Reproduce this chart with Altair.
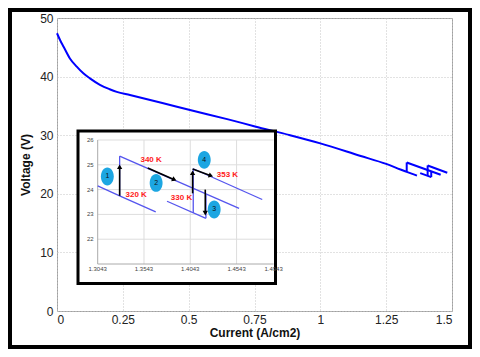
import altair as alt
import pandas as pd
import math

# ---- main polarization curve (Current A/cm2 -> Voltage V)
curve_x = [0, 0.012, 0.025, 0.049, 0.075, 0.1, 0.125, 0.163, 0.2, 0.227, 0.277, 0.4, 0.505,
           0.65, 0.752, 0.885, 1.0, 1.15, 1.25, 1.3043, 1.328, 1.367]
curve_y = [47.4, 46.2, 45.1, 43.1, 41.7, 40.56, 39.7, 38.6, 37.85, 37.4, 36.86, 35.5, 34.3,
           32.7, 31.5, 30.0, 28.6, 26.5, 25.1, 24.15, 23.75, 23.1]

# ---- temperature-step segments
v1_x = [1.328, 1.328];   v1_y = [23.75, 25.35]
b_x = [1.328, 1.457];    b_y = [25.35, 23.24]
c_x = [1.3792, 1.4212];  c_y = [23.53, 22.84]
v2_x = [1.4075, 1.4075]; v2_y = [23.06, 24.84]
d_x = [1.4075, 1.482];   d_y = [24.84, 23.6]
v3_x = [1.4212, 1.4212]; v3_y = [23.82, 22.84]

# ---- axes ticks
main_xticks = [0, 0.25, 0.5, 0.75, 1, 1.25, 1.5]
main_yticks = [0, 10, 20, 30, 40, 50]
inset_xticks = [1.3043, 1.3543, 1.4043, 1.4543, 1.4943]
inset_xlabels = ["1.3043", "1.3543", "1.4043", "1.4543", "1.4943"]
inset_yticks = [22, 23, 24, 25, 26]

# ---- inset annotations
arrow_x1 = [1.328, 1.3584, 1.4068, 1.4068, 1.4205]
arrow_y1 = [23.75, 24.87, 23.85, 24.83, 24.0]
arrow_x2 = [1.328, 1.3871, 1.4068, 1.4266, 1.4205]
arrow_y2 = [24.92, 24.40, 24.68, 24.56, 23.05]

badge_x = [1.3147, 1.3674, 1.4301, 1.4194]
badge_y = [24.53, 24.27, 23.2, 25.2]
badge_label = ["1", "2", "3", "4"]

temp_x = [1.3620, 1.3459, 1.3948, 1.4444]
temp_y = [25.2, 23.77, 23.66, 24.6]
temp_label = ["340 K", "320 K", "330 K", "353 K"]

# ---- build tables
rows = []
segs = [("main", curve_x, curve_y), ("v1", v1_x, v1_y), ("b", b_x, b_y), ("c", c_x, c_y),
        ("v2", v2_x, v2_y), ("d", d_x, d_y), ("v3", v3_x, v3_y)]
for name, xs, ys in segs:
    for i, (xx, yy) in enumerate(zip(xs, ys)):
        rows.append({"seg": name, "i": i, "x": xx, "y": yy})
df = pd.DataFrame(rows)

FONT = "Liberation Sans"
W, H = 395, 293

# inset pixel ratios (for arrow head rotation only)
PXX = (216.6 - 40.7) / (1.4943 - 1.3043)
PXY = (246 - 122) / (26 - 21)
arr = pd.DataFrame({"x1": arrow_x1, "y1": arrow_y1, "x2": arrow_x2, "y2": arrow_y2})
arr["ang"] = [math.degrees(math.atan2((a - b) * PXY, (d - c) * PXX)) + 90
              for a, b, c, d in zip(arr.y1, arr.y2, arr.x1, arr.x2)]

# ---------------- main chart
mx = alt.X("x:Q", scale=alt.Scale(domain=[0, 1.5], nice=False, zero=False),
           axis=alt.Axis(values=main_xticks, format=".2~f", title="Current (A/cm2)",
                         labelPadding=3, titlePadding=2))
my = alt.Y("y:Q", scale=alt.Scale(domain=[0, 50], nice=False, zero=False),
           axis=alt.Axis(values=main_yticks, format=".2~f", title="Voltage (V)",
                         labelPadding=4, titlePadding=7))

frame = alt.Chart(pd.DataFrame({"k": [0]})).mark_rect(
    fillOpacity=0, stroke="black", strokeWidth=4
).encode(x=alt.value(-47), x2=alt.value(W + 18), y=alt.value(-8), y2=alt.value(H + 36))

main_curve = alt.Chart(df).transform_filter(alt.datum.seg == "main").mark_line(
    color="#0000FF", strokeWidth=2, interpolate="monotone").encode(
    x=mx, y=my, order="i:Q")
main_steps = alt.Chart(df).transform_filter(alt.datum.seg != "main").mark_line(
    color="#0000FF", strokeWidth=2).encode(
    x=mx, y=my, detail="seg:N", order="i:Q")

main_layer = alt.layer(frame, main_curve, main_steps)

# ---------------- inset
sx = alt.Scale(domain=[1.3043, 1.4943], range=[40.7, 216.6], nice=False, zero=False)
sy = alt.Scale(domain=[21, 26], range=[246, 122], nice=False, zero=False)

box = alt.Chart(pd.DataFrame({"k": [0]})).mark_rect(
    fill="white", stroke="black", strokeWidth=3
).encode(x=alt.value(21), x2=alt.value(218.5), y=alt.value(113), y2=alt.value(265.5))

hgrid = alt.Chart(pd.DataFrame({"y": inset_yticks, "xa": [inset_xticks[0]] * 5, "xb": [inset_xticks[-1]] * 5})
                  ).mark_rule(color="#dddddd", strokeWidth=1).encode(
    x=alt.X("xa:Q", scale=sx, axis=None), x2="xb:Q", y=alt.Y("y:Q", scale=sy, axis=None))
vgrid = alt.Chart(pd.DataFrame({"x": inset_xticks[1:4], "ya": [21] * 3, "yb": [26] * 3})
                  ).mark_rule(color="#dddddd", strokeWidth=1).encode(
    x=alt.X("x:Q", scale=sx, axis=None), y=alt.Y("ya:Q", scale=sy, axis=None), y2="yb:Q")
iaxes = alt.Chart(pd.DataFrame({"xa": [1.3043, 1.3043], "xb": [1.3043, 1.4943],
                                "ya": [21, 21], "yb": [26, 21]})
                  ).mark_rule(color="#aaaaaa", strokeWidth=1).encode(
    x=alt.X("xa:Q", scale=sx, axis=None), x2="xb:Q",
    y=alt.Y("ya:Q", scale=sy, axis=None), y2="yb:Q")

xlab = alt.Chart(pd.DataFrame({"x": inset_xticks, "y": [21] * 5, "t": inset_xlabels})).mark_text(
    font=FONT, fontSize=6, color="#444", baseline="top", dy=2).encode(
    x=alt.X("x:Q", scale=sx, axis=None), y=alt.Y("y:Q", scale=sy, axis=None), text="t:N")
ylab = alt.Chart(pd.DataFrame({"x": [1.3043] * 5, "y": inset_yticks})).mark_text(
    font=FONT, fontSize=6, color="#444", align="right", baseline="middle", dx=-4).encode(
    x=alt.X("x:Q", scale=sx, axis=None), y=alt.Y("y:Q", scale=sy, axis=None), text="y:N")

inset_lines = alt.Chart(df).transform_filter(alt.datum.x >= 1.3043).mark_line(
    color="#5555EE", strokeWidth=1.3).encode(
    x=alt.X("x:Q", scale=sx, axis=None), y=alt.Y("y:Q", scale=sy, axis=None),
    detail="seg:N", order="i:Q")

shafts = alt.Chart(arr).mark_rule(color="black", strokeWidth=1.6).encode(
    x=alt.X("x1:Q", scale=sx, axis=None), x2="x2:Q",
    y=alt.Y("y1:Q", scale=sy, axis=None), y2="y2:Q")
heads = alt.Chart(arr).mark_point(shape="triangle-up", filled=True, color="black", size=28, opacity=1).encode(
    x=alt.X("x2:Q", scale=sx, axis=None), y=alt.Y("y2:Q", scale=sy, axis=None),
    angle=alt.Angle("ang:Q", scale=None))

ellipse = "M0,-1A0.72,1 0 1,1 0,1A0.72,1 0 1,1 0,-1Z"
bdf = pd.DataFrame({"x": badge_x, "y": badge_y, "t": badge_label})
badges = alt.Chart(bdf).mark_point(shape=ellipse, filled=True, color="#1CA6E2", size=320, opacity=1).encode(
    x=alt.X("x:Q", scale=sx, axis=None), y=alt.Y("y:Q", scale=sy, axis=None))
badge_txt = alt.Chart(bdf).mark_text(font=FONT, fontSize=7, color="#111").encode(
    x=alt.X("x:Q", scale=sx, axis=None), y=alt.Y("y:Q", scale=sy, axis=None), text="t:N")

temps = alt.Chart(pd.DataFrame({"x": temp_x, "y": temp_y, "t": temp_label})).mark_text(
    font=FONT, fontSize=8, fontWeight="bold", color="#FF2020").encode(
    x=alt.X("x:Q", scale=sx, axis=None), y=alt.Y("y:Q", scale=sy, axis=None), text="t:N")

inset_layer = alt.layer(box, hgrid, vgrid, iaxes, xlab, ylab, inset_lines, shafts, heads,
                        badges, badge_txt, temps)

chart = alt.layer(main_layer, inset_layer).resolve_scale(
    x="independent", y="independent"
).properties(
    width=W, height=H,
    autosize=alt.AutoSizeParams(type="none"),
    padding={"left": 49, "top": 10, "right": 20, "bottom": 38},
    background="white",
).configure_view(stroke="#a0a0a0", strokeWidth=1).configure_axis(
    grid=True, gridColor="#c4c4c4", gridDash=[1, 2], gridWidth=1,
    domain=False, ticks=False,
    labelFont=FONT, labelFontSize=12, labelColor="#222",
    titleFont=FONT, titleFontSize=12, titleFontWeight="bold", titleColor="#111",
)

chart.save("out.html", embed_options={"renderer": "svg", "actions": False})
